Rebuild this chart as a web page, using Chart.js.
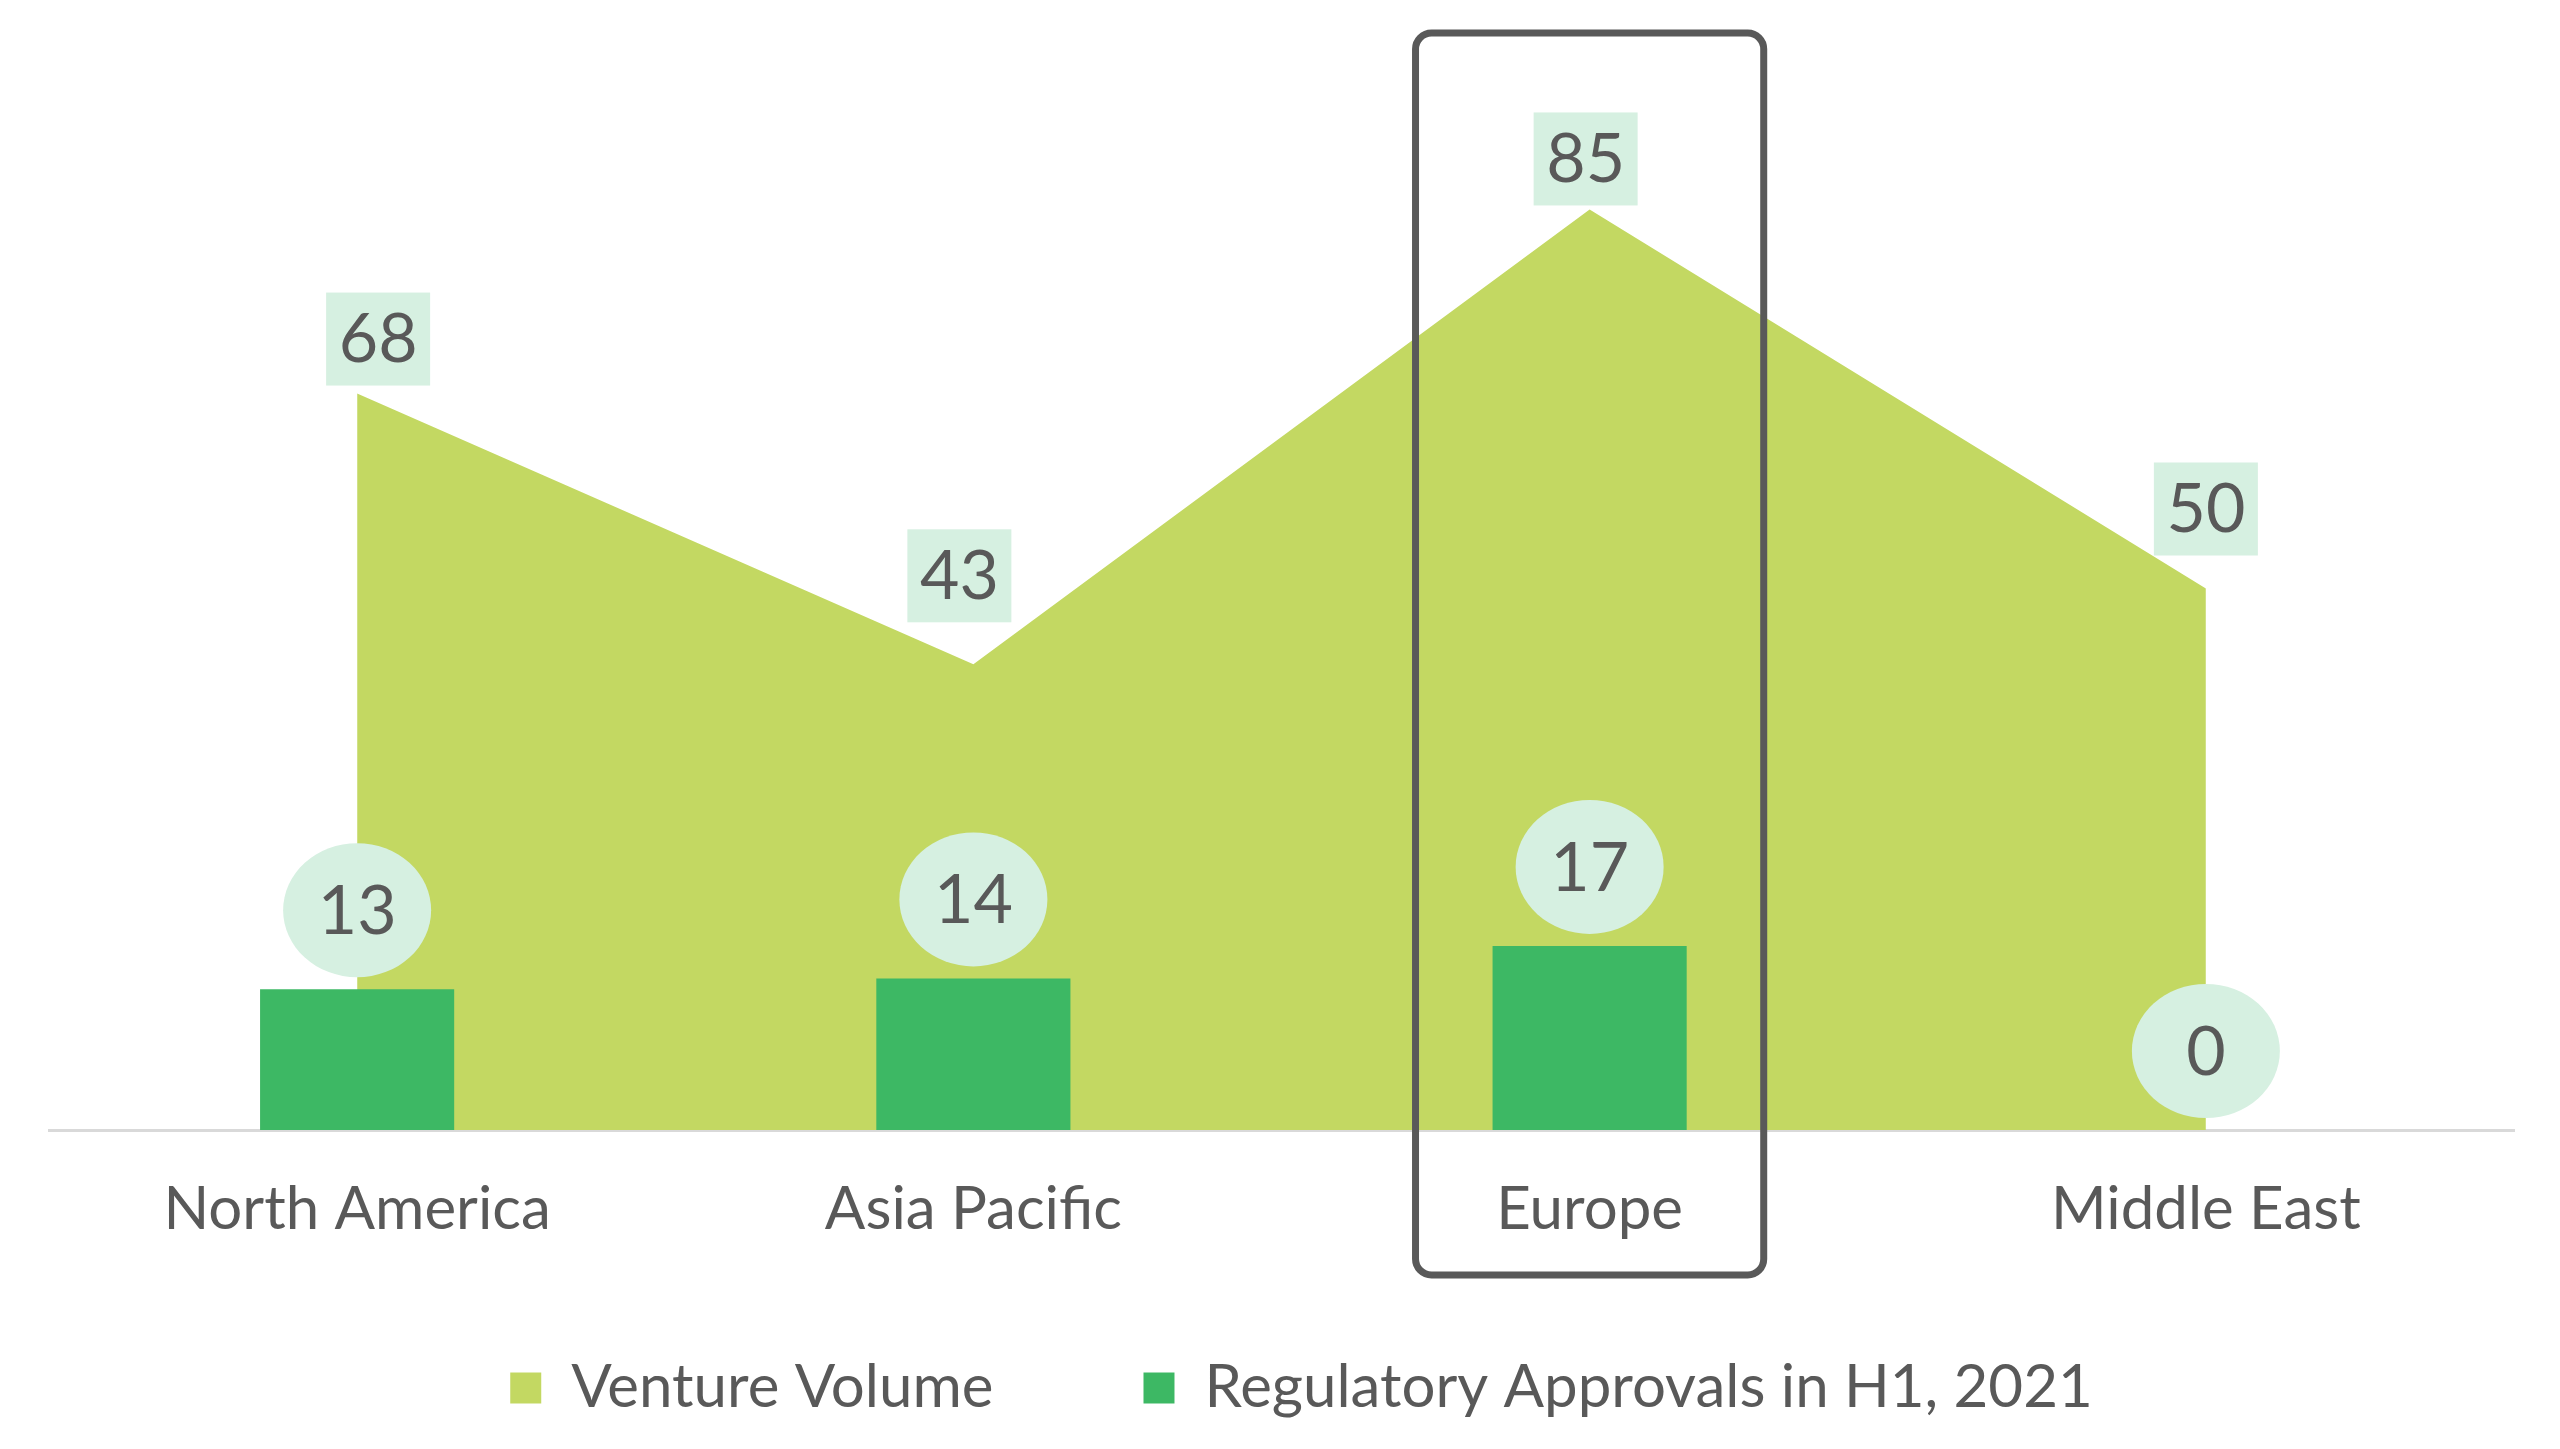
<!DOCTYPE html>
<html>
<head>
<meta charset="utf-8">
<script src="https://cdn.jsdelivr.net/npm/chart.js@4.4.0/dist/chart.umd.min.js"></script>
<style>
  html, body { margin: 0; padding: 0; background: #fff; }
</style>
</head>
<body>
<canvas id="regions-chart" width="2560" height="1449"></canvas>
<script>
// data
const regions = ['North America', 'Asia Pacific', 'Europe', 'Middle East'];
const ventureVolume = [68, 43, 85, 50];
const approvals = [13, 14, 17, 0];
const highlighted = 'Europe';

const TEXT = '#595959';
const LABEL_BG = '#d6f0e1';
const LEGEND_PAD = 150;
const LEGEND_FONT = 60;

// small nudges so the area labels sit where the original put them
const areaLabelNudge = [[21, -55], [-14, -89], [-4, -51], [0, -80]];

const valueLabels = {
  id: 'valueLabels',
  afterDatasetsDraw (chart) {
    const ctx = chart.ctx;
    ctx.save();
    ctx.font = '68px Lato';
    ctx.textAlign = 'center';
    ctx.textBaseline = 'middle';

    chart.getDatasetMeta(0).data.forEach((pt, i) => {
      const cx = pt.x + areaLabelNudge[i][0];
      const cy = pt.y + areaLabelNudge[i][1];
      ctx.fillStyle = LABEL_BG;
      ctx.fillRect(cx - 52, cy - 46, 104, 93);
      ctx.fillStyle = TEXT;
      ctx.fillText(String(ventureVolume[i]), cx, cy + 2);
    });

    chart.getDatasetMeta(1).data.forEach((bar, i) => {
      const cx = bar.x;
      const cy = bar.y - 79;
      ctx.fillStyle = LABEL_BG;
      ctx.beginPath();
      ctx.ellipse(cx, cy, 74, 67, 0, 0, Math.PI * 2);
      ctx.fill();
      ctx.fillStyle = TEXT;
      ctx.fillText(String(approvals[i]), cx, cy + 2);
    });
    ctx.restore();
  }
};

const highlightBox = {
  id: 'highlightBox',
  afterDraw (chart) {
    const {ctx, chartArea, scales} = chart;
    const x = scales.x.getPixelForValue(regions.indexOf(highlighted));
    const w = chartArea.width / regions.length * 0.565;
    const left = x - w / 2, right = x + w / 2;
    const top = chartArea.top - 14, bottom = chartArea.bottom + 145;
    const r = 16;
    ctx.save();
    ctx.strokeStyle = TEXT;
    ctx.lineWidth = 7;
    ctx.beginPath();
    ctx.moveTo(left + r, top);
    ctx.lineTo(right - r, top);
    ctx.arcTo(right, top, right, top + r, r);
    ctx.lineTo(right, bottom - r);
    ctx.arcTo(right, bottom, right - r, bottom, r);
    ctx.lineTo(left + r, bottom);
    ctx.arcTo(left, bottom, left, bottom - r, r);
    ctx.lineTo(left, top + r);
    ctx.arcTo(left, top, left + r, top, r);
    ctx.closePath();
    ctx.stroke();
    ctx.restore();
  }
};

// the legend needs wide gaps between items but little height,
// so pin its box height and move it up under the axis labels
const legendPlacement = {
  id: 'legendPlacement',
  beforeLayout (chart) {
    const lg = chart.legend;
    if (lg && !lg._pinned) {
      const fit = lg.fit;
      lg.fit = function () { fit.call(this); this.height = 189; };
      lg._pinned = true;
    }
  },
  afterLayout (chart) {
    const lg = chart.legend;
    const top = chart.chartArea.bottom + 258 - LEGEND_PAD - LEGEND_FONT / 2;
    lg.top = top;
    lg.bottom = chart.height;
    lg.height = lg.bottom - top;
    lg.left += 20;
    lg.right += 20;
  }
};

new Chart(document.getElementById('regions-chart'), {
  data: {
    labels: regions,
    datasets: [
      {
        type: 'line',
        label: 'Venture Volume',
        data: ventureVolume,
        fill: 'origin',
        backgroundColor: '#c3d862',
        borderColor: '#c3d862',
        borderWidth: 0,
        pointRadius: 0,
        tension: 0,
        order: 1
      },
      {
        type: 'bar',
        label: 'Regulatory Approvals in H1, 2021',
        data: approvals,
        backgroundColor: '#3db864',
        borderWidth: 0,
        categoryPercentage: 1,
        barPercentage: 0.315,
        order: 0
      }
    ]
  },
  options: {
    responsive: false,
    animation: false,
    layout: { padding: { top: 47, left: 49, right: 46, bottom: 0 } },
    plugins: {
      tooltip: { enabled: false },
      legend: {
        position: 'bottom',
        labels: {
          font: { family: 'Lato', size: LEGEND_FONT },
          color: TEXT,
          boxWidth: 31,
          boxHeight: 31,
          padding: LEGEND_PAD,
          sort: (a, b) => a.datasetIndex - b.datasetIndex
        }
      }
    },
    scales: {
      x: {
        grid: { display: false },
        border: { display: true, color: '#d9d9d9', width: 3 },
        ticks: { font: { family: 'Lato', size: 60 }, color: TEXT, padding: 36 },
        afterFit: (scale) => { scale.height = 130; }
      },
      y: { display: false, min: 0, max: 100 }
    }
  },
  plugins: [valueLabels, highlightBox, legendPlacement]
});
</script>
</body>
</html>
